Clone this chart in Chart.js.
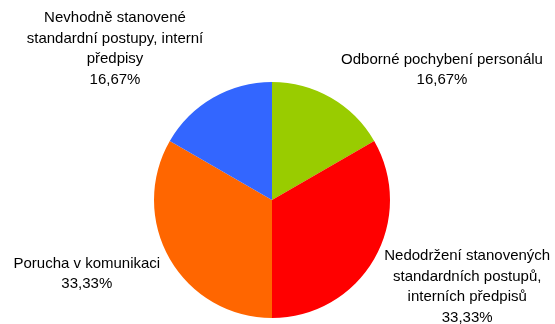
<!DOCTYPE html>
<html>
<head>
<meta charset="utf-8">
<script src="https://cdn.jsdelivr.net/npm/chart.js@4"></script>
<style>
  html, body { margin: 0; padding: 0; background: #ffffff; }
  #wrap { width: 555px; height: 324px; position: relative; }
</style>
</head>
<body>
<div id="wrap"><canvas id="c" width="555" height="324"></canvas></div>
<script>
// Data
const categories = [
  "Odborné pochybení personálu",
  "Nedodržení stanovených standardních postupů, interních předpisů",
  "Porucha v komunikaci",
  "Nevhodně stanovené standardní postupy, interní předpisy"
];
const labelLines = [
  ["Odborné pochybení personálu"],
  ["Nedodržení stanovených", "standardních postupů,", "interních předpisů"],
  ["Porucha v komunikaci"],
  ["Nevhodně stanovené", "standardní postupy, interní", "předpisy"]
];
const values = [1, 2, 2, 1];
const percentLabels = ["16,67%", "33,33%", "33,33%", "16,67%"];

// Styles
const sliceColors = ["#99CC00", "#FF0000", "#FF6600", "#3366FF"];
// label block offsets relative to the arc's outer mid-point
const labelOffsets = [[111, -28], [93, 28], [-83, 15], [-98, -49]];
const FONT = "15px 'Liberation Sans', Arial, sans-serif";
const LINE_H = 20.5;

const labelPlugin = {
  id: 'sliceLabels',
  afterDatasetsDraw(chart) {
    const ctx = chart.ctx;
    const meta = chart.getDatasetMeta(0);
    ctx.save();
    ctx.font = FONT;
    ctx.fillStyle = "#000000";
    ctx.textAlign = "center";
    ctx.textBaseline = "middle";
    meta.data.forEach((arc, i) => {
      const p = arc.getProps(['x', 'y', 'startAngle', 'endAngle', 'outerRadius'], true);
      const mid = (p.startAngle + p.endAngle) / 2;
      const ax = p.x + Math.cos(mid) * p.outerRadius;
      const ay = p.y + Math.sin(mid) * p.outerRadius;
      const lines = labelLines[i].concat([percentLabels[i]]);
      const cx = ax + labelOffsets[i][0];
      const cy = ay + labelOffsets[i][1];
      const top = cy - (lines.length - 1) * LINE_H / 2;
      lines.forEach((t, k) => ctx.fillText(t, cx, top + k * LINE_H));
    });
    ctx.restore();
  }
};

new Chart(document.getElementById('c'), {
  type: 'pie',
  data: {
    labels: categories,
    datasets: [{
      data: values,
      backgroundColor: sliceColors,
      borderWidth: 0
    }]
  },
  options: {
    responsive: false,
    animation: false,
    layout: { padding: { left: 154, right: 165, top: 82, bottom: 6 } },
    plugins: {
      legend: { display: false },
      tooltip: { enabled: false }
    }
  },
  plugins: [labelPlugin]
});
</script>
</body>
</html>
